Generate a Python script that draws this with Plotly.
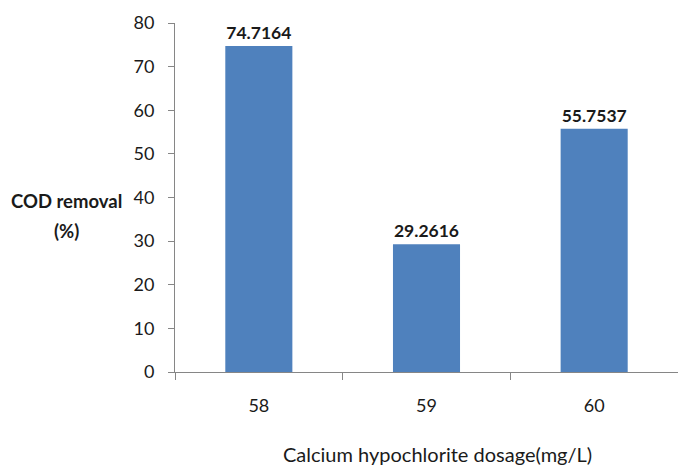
import plotly.graph_objects as go

# Calcium hypochlorite dosage (mg/L) and resulting COD removal (%)
dosages = ["58", "59", "60"]
cod_removal = [74.7164, 29.2616, 55.7537]
y_ticks = [0, 10, 20, 30, 40, 50, 60, 70, 80]

FONT = "Lato"
AXIS_COLOR = "#868686"
TEXT_COLOR = "#1a1a1a"

fig = go.Figure(
    go.Bar(
        x=dosages,
        y=cod_removal,
        width=0.4,
        marker=dict(color="#4f81bd", line=dict(width=0)),
        text=[f"{v:.4f}" for v in cod_removal],
        textposition="outside",
        cliponaxis=False,
        textfont=dict(family=FONT, size=17.5, color=TEXT_COLOR, weight="bold"),
    )
)

fig.update_layout(
    width=678,
    height=466,
    margin=dict(l=175, r=0, t=23, b=94),
    paper_bgcolor="white",
    plot_bgcolor="white",
    showlegend=False,
    font=dict(family=FONT, color=TEXT_COLOR),
    xaxis=dict(
        type="category",
        range=[-0.5, 2.5],
        showline=True,
        linecolor=AXIS_COLOR,
        linewidth=1,
        ticks="outside",
        tickson="boundaries",
        ticklen=7,
        tickcolor=AXIS_COLOR,
        ticklabelstandoff=17,
        tickfont=dict(family=FONT, size=18, color=TEXT_COLOR),
        showgrid=False,
        zeroline=False,
    ),
    yaxis=dict(
        range=[0, 80],
        tickvals=y_ticks,
        showline=True,
        linecolor=AXIS_COLOR,
        linewidth=1,
        ticks="outside",
        ticklen=6,
        tickcolor=AXIS_COLOR,
        ticklabelstandoff=10,
        tickfont=dict(family=FONT, size=18, color=TEXT_COLOR),
        showgrid=False,
        zeroline=False,
    ),
    annotations=[
        dict(
            text="<b>COD removal</b>",
            xref="paper", yref="paper",
            x=-0.215, y=0.491,
            xanchor="center", yanchor="middle",
            showarrow=False,
            font=dict(family=FONT, size=18.5, color=TEXT_COLOR),
        ),
        dict(
            text="<b>(%)</b>",
            xref="paper", yref="paper",
            x=-0.215, y=0.404,
            xanchor="center", yanchor="middle",
            showarrow=False,
            font=dict(family=FONT, size=18.5, color=TEXT_COLOR),
        ),
        dict(
            text="Calcium hypochlorite dosage(mg/L)",
            xref="paper", yref="paper",
            x=0.521, y=-0.236,
            xanchor="center", yanchor="middle",
            showarrow=False,
            font=dict(family=FONT, size=20, color=TEXT_COLOR),
        ),
    ],
)

fig.write_html("out.html")
